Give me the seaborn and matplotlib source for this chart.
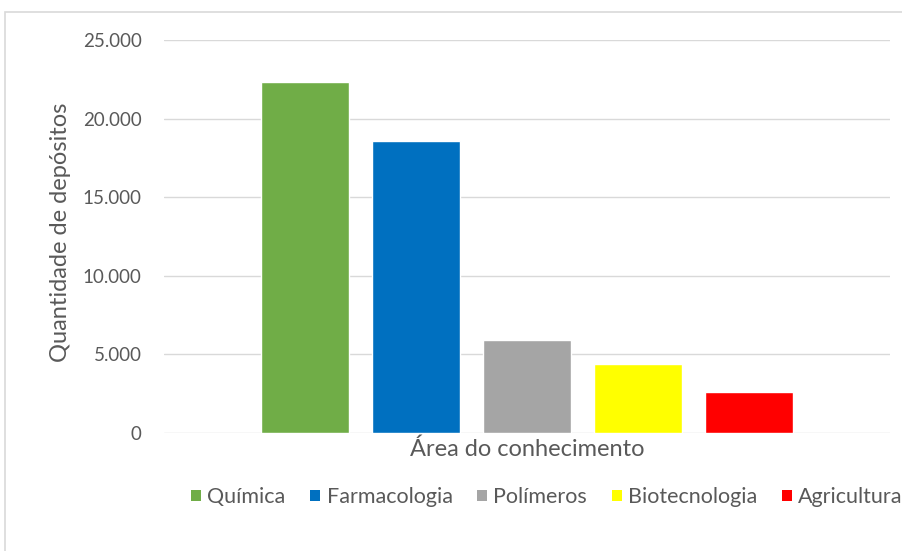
import matplotlib
matplotlib.use("Agg")
import matplotlib.pyplot as plt
import matplotlib.patches as mpatches
import seaborn as sns
import pandas as pd

areas = ["Química", "Farmacologia", "Polímeros", "Biotecnologia", "Agricultura"]
depositos = [22300, 18600, 5900, 4400, 2600]
cores = ["#70AD47", "#0070C0", "#A5A5A5", "#FFFF00", "#FF0000"]
yticks = [0, 5000, 10000, 15000, 20000, 25000]
ytick_labels = ["0", "5.000", "10.000", "15.000", "20.000", "25.000"]

sns.set_theme(style="white")
plt.rcParams["font.family"] = ["Lato", "DejaVu Sans"]
txt = "#595959"

df = pd.DataFrame({"area": areas, "valor": depositos})

fig = plt.figure(figsize=(9.02, 5.51), dpi=100)
ax = fig.add_axes([164/902, 1-433/551, (890-164)/902, (433-40)/551])

sns.barplot(data=df, x="area", y="valor", hue="area", order=areas, hue_order=areas,
            palette=cores, width=0.784, legend=False, ax=ax, zorder=3,
            saturation=1)

half = 726/111/2
ax.set_xlim(2-half, 2+half)
ax.set_ylim(0, 25000)
ax.set_yticks(yticks)
ax.set_yticklabels(ytick_labels, color=txt, fontsize=13.5)
ax.set_xticks([])
ax.tick_params(axis="y", length=0, pad=16)
ax.grid(axis="y", color="#D9D9D9", linewidth=1, zorder=0)
ax.set_axisbelow(True)
for s in ax.spines.values():
    s.set_visible(False)

ax.set_xlabel("Área do conhecimento", color=txt, fontsize=17, labelpad=4)
ax.set_ylabel("Quantidade de depósitos", color=txt, fontsize=17)
ax.yaxis.set_label_coords((71-164)/726, (433-232)/393)

handles = [mpatches.Patch(facecolor=c, edgecolor="none", label=a) for a, c in zip(areas, cores)]
leg = fig.legend(handles=handles, loc="center", bbox_to_anchor=(547/902, 1-497/551),
                 ncol=5, frameon=False, fontsize=15.5, handlelength=0.45, handleheight=0.45,
                 handletextpad=0.3, columnspacing=1.15, labelcolor=txt)

border = mpatches.Rectangle((5/902, -0.1), 1.1, 1+0.1-12/551, transform=fig.transFigure,
                            fill=False, edgecolor="#D9D9D9", linewidth=1.2)
fig.patches.append(border)

fig.savefig("out.png", dpi=100)
